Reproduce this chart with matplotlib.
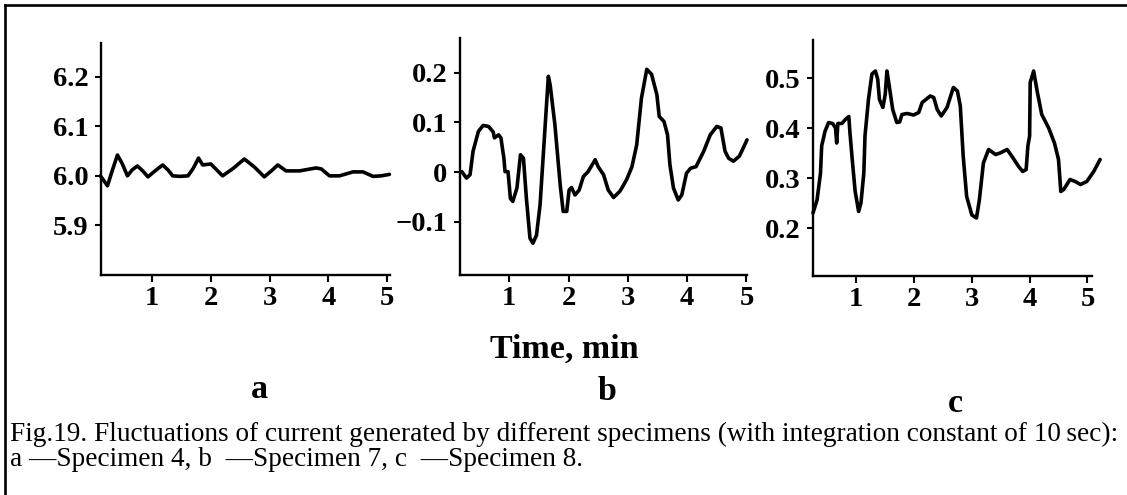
import matplotlib
matplotlib.use("Agg")
import matplotlib.pyplot as plt
from matplotlib.lines import Line2D

plt.rcParams['font.family'] = ['Liberation Serif', 'DejaVu Serif']

W, H = 1127, 495

# panel a - specimen 4
a_t = [0.12, 0.24, 0.32, 0.41, 0.49, 0.58, 0.66, 0.75, 0.84, 0.93, 1.05, 1.18, 1.27, 1.35,
       1.48, 1.61, 1.70, 1.79, 1.86, 2.00, 2.10, 2.20, 2.38, 2.57, 2.74, 2.91, 3.03, 3.14,
       3.28, 3.51, 3.79, 3.88, 4.02, 4.19, 4.42, 4.59, 4.76, 4.90, 5.04]
a_i = [6.000, 5.980, 6.010, 6.042, 6.025, 6.000, 6.012, 6.020, 6.010, 5.998, 6.010, 6.022, 6.012, 6.000,
       5.999, 6.000, 6.015, 6.036, 6.022, 6.024, 6.012, 6.000, 6.015, 6.034, 6.018, 5.998, 6.010, 6.022,
       6.010, 6.010, 6.016, 6.014, 6.000, 6.000, 6.008, 6.008, 5.999, 6.000, 6.003]

# panel b - specimen 7
b_t = [0.20, 0.28, 0.34, 0.39, 0.48, 0.56, 0.65, 0.73, 0.75, 0.82, 0.86, 0.91, 0.93, 0.98,
       1.02, 1.06, 1.13, 1.19, 1.24, 1.29, 1.35, 1.40, 1.46, 1.52, 1.60, 1.66, 1.69, 1.77,
       1.86, 1.91, 1.97, 2.01, 2.05, 2.11, 2.18, 2.25, 2.33, 2.45, 2.50, 2.59, 2.67, 2.76,
       2.87, 2.98, 3.07, 3.15, 3.23, 3.32, 3.40, 3.49, 3.53, 3.61, 3.67, 3.71, 3.77, 3.85,
       3.91, 3.99, 4.06, 4.15, 4.28, 4.39, 4.50, 4.57, 4.64, 4.70, 4.78, 4.88, 4.96, 5.01]
b_i = [0.001, -0.012, -0.005, 0.042, 0.082, 0.094, 0.092, 0.081, 0.069, 0.075, 0.069, 0.028, 0.001, 0.001,
       -0.053, -0.059, -0.032, 0.035, 0.028, -0.053, -0.133, -0.143, -0.127, -0.066, 0.082, 0.193, 0.176, 0.096,
       -0.026, -0.079, -0.079, -0.036, -0.031, -0.046, -0.036, -0.009, 0.001, 0.025, 0.011, -0.005, -0.036, -0.051,
       -0.038, -0.015, 0.011, 0.055, 0.149, 0.207, 0.197, 0.156, 0.112, 0.102, 0.075, 0.015, -0.032, -0.056,
       -0.046, -0.002, 0.008, 0.011, 0.042, 0.075, 0.092, 0.089, 0.042, 0.028, 0.022, 0.032, 0.052, 0.065]

# panel c - specimen 8
c_t = [0.25, 0.32, 0.38, 0.40, 0.46, 0.52, 0.59, 0.64, 0.66, 0.68, 0.75, 0.81, 0.87, 0.89,
       0.94, 0.98, 1.04, 1.08, 1.13, 1.15, 1.21, 1.27, 1.33, 1.37, 1.40, 1.46, 1.50, 1.53,
       1.57, 1.63, 1.70, 1.75, 1.79, 1.88, 1.99, 2.08, 2.14, 2.28, 2.34, 2.40, 2.47, 2.57,
       2.68, 2.75, 2.80, 2.85, 2.91, 3.00, 3.08, 3.13, 3.20, 3.29, 3.41, 3.49, 3.61, 3.69,
       3.81, 3.88, 3.94, 3.97, 4.00, 4.01, 4.07, 4.13, 4.21, 4.33, 4.43, 4.50, 4.54, 4.59,
       4.70, 4.79, 4.88, 4.99, 5.11, 5.22]
c_i = [0.230, 0.256, 0.310, 0.364, 0.394, 0.411, 0.409, 0.400, 0.370, 0.409, 0.409, 0.417, 0.423, 0.390,
       0.323, 0.273, 0.233, 0.250, 0.310, 0.384, 0.457, 0.508, 0.514, 0.498, 0.457, 0.441, 0.467, 0.514,
       0.484, 0.437, 0.411, 0.412, 0.427, 0.429, 0.426, 0.431, 0.451, 0.464, 0.461, 0.437, 0.424, 0.441,
       0.481, 0.474, 0.444, 0.344, 0.263, 0.226, 0.220, 0.256, 0.330, 0.357, 0.347, 0.350, 0.357, 0.344,
       0.323, 0.313, 0.317, 0.364, 0.384, 0.491, 0.514, 0.474, 0.427, 0.400, 0.370, 0.337, 0.273, 0.277,
       0.297, 0.293, 0.287, 0.293, 0.313, 0.337]

x_ticks = [1, 2, 3, 4, 5]
a_yticks = [5.9, 6.0, 6.1, 6.2]
b_yticks = [-0.1, 0, 0.1, 0.2]
b_ylabels = ['\u22120.1', '0', '0.1', '0.2']
c_yticks = [0.2, 0.3, 0.4, 0.5]

panel_letters = ['a', 'b', 'c']
caption1 = 'Fig.19. Fluctuations of current generated by different specimens (with integration constant of 10\u2009sec):'
caption2 = 'a \u2014Specimen 4, b  \u2014Specimen 7, c  \u2014Specimen 8.'


def box(left, top, right, bottom):
    return [left / W, 1 - bottom / H, (right - left) / W, (bottom - top) / H]


fig = plt.figure(figsize=(W / 100, H / 100), dpi=100)
fig.patch.set_facecolor('white')

panels = [
    (box(101, 43, 390, 275), a_t, a_i, (0.13, 5.05), (5.80, 6.268), a_yticks, ['5.9', '6.0', '6.1', '6.2']),
    (box(460, 38, 747, 275), b_t, b_i, (0.17, 5.01), (-0.207, 0.27), b_yticks, b_ylabels),
    (box(813, 40, 1092, 276), c_t, c_i, (0.25, 5.08), (0.104, 0.576), c_yticks, ['0.2', '0.3', '0.4', '0.5']),
]

for rect, t, cur, xl, yl, yt, ylab in panels:
    ax = fig.add_axes(rect)
    ax.plot(t, cur, color='black', lw=2.6, clip_on=False,
            solid_joinstyle='round', solid_capstyle='round')
    ax.set_xlim(*xl)
    ax.set_ylim(*yl)
    ax.set_xticks(x_ticks)
    ax.set_yticks(yt)
    ax.set_yticklabels(ylab)
    for s in ['top', 'right']:
        ax.spines[s].set_visible(False)
    for s in ['left', 'bottom']:
        ax.spines[s].set_linewidth(1.7)
    ax.tick_params(axis='y', direction='out', length=4, width=1.5, pad=5, labelsize=20.5)
    ax.tick_params(axis='x', direction='out', length=5, width=1.5, pad=3, labelsize=20.5)
    for lab in ax.get_xticklabels() + ax.get_yticklabels():
        lab.set_fontweight('bold')
    ax.patch.set_alpha(0)

fig.text(564 / W, 1 - 349 / H, 'Time, min', ha='center', va='center',
         fontsize=24.5, fontweight='bold')
for letter, (x, y) in zip(panel_letters, [(259, 390), (607, 392), (955, 404)]):
    fig.text(x / W, 1 - y / H, letter, ha='center', va='center',
             fontsize=24.5, fontweight='bold')

fig.text(10 / W, 1 - 441 / H, caption1, ha='left', va='baseline', fontsize=19.6)
fig.text(10 / W, 1 - 466 / H, caption2, ha='left', va='baseline', fontsize=19.6)

# frame around the figure (only top and left edge are visible)
fig.add_artist(Line2D([5 / W, 1.0], [1 - 5 / H, 1 - 5 / H], color='black', lw=1.9))
fig.add_artist(Line2D([5 / W, 5 / W], [1 - 5 / H, 0.0], color='black', lw=1.9))

fig.savefig('out.png', dpi=100, facecolor='white')
